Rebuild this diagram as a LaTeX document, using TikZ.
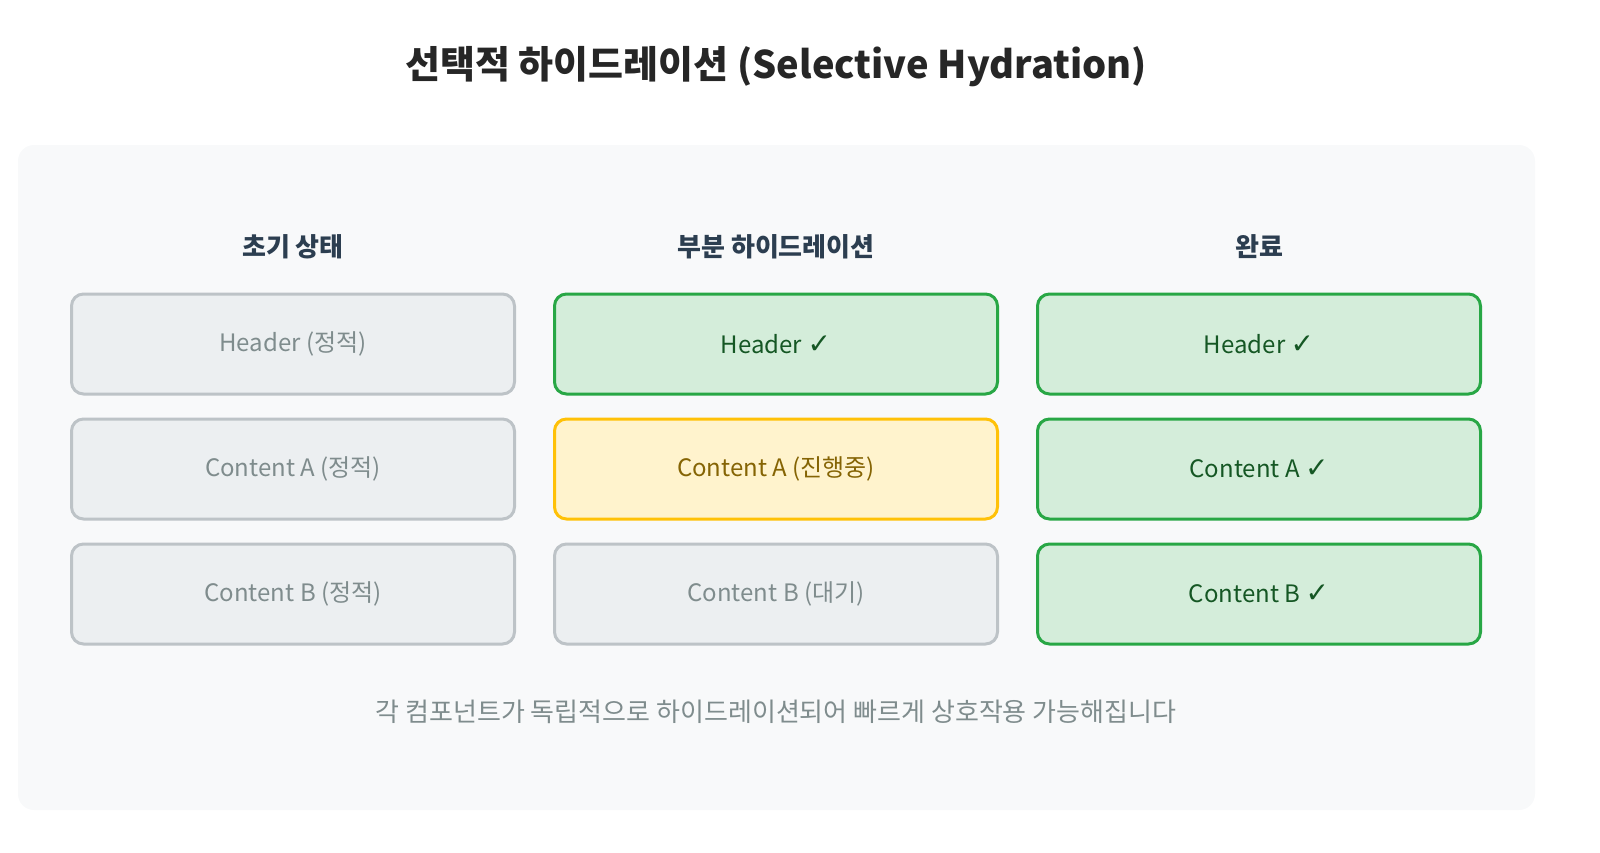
\documentclass[tikz,border=0pt]{standalone}
\usepackage{fontspec}
\setmainfont{Noto Sans CJK KR}
\newfontfamily\symfont{DejaVu Sans}
\usetikzlibrary{positioning}
\definecolor{panelbg}{HTML}{F8F9FA}
\definecolor{headtext}{HTML}{2C3E50}
\definecolor{grayfill}{HTML}{ECEFF1}
\definecolor{grayline}{HTML}{BDC3C7}
\definecolor{graytext}{HTML}{7F8C8D}
\definecolor{greenfill}{HTML}{D4EDDA}
\definecolor{greenline}{HTML}{28A745}
\definecolor{greentext}{HTML}{155724}
\definecolor{yellowfill}{HTML}{FFF3CD}
\definecolor{yellowline}{HTML}{FFC107}
\definecolor{yellowtext}{HTML}{856404}
\newcommand\chk{{\symfont\fontsize{14}{14}\selectfont ✓}}

\begin{document}
\begin{tikzpicture}[x=0.5pt,y=0.5pt,
  box/.style={draw, line width=1.5pt, rounded corners=6pt, minimum width=221.5pt,
    minimum height=50pt, font=\fontsize{12}{14}\selectfont},
  idle/.style={box, draw=grayline, fill=grayfill, text=graytext},
  ready/.style={box, draw=greenline, fill=greenfill, text=greentext},
  busy/.style={box, draw=yellowline, fill=yellowfill, text=yellowtext},
  colhead/.style={font=\fontsize{13}{15}\selectfont\bfseries, text=headtext},
  node distance=11pt]

  \useasboundingbox (0,0) rectangle (1600,-852);
  % panel
  \fill[panelbg, rounded corners=8pt] (18,-145) rectangle (1535,-810);

  \node[font=\fontsize{19}{22}\selectfont\bfseries, text=black!85] (title) at (776,-67)
    {선택적 하이드레이션 (Selective Hydration)};

  % column heads
  \node[colhead] (init) at (293,-247) {초기 상태};
  \node[colhead] (part) at (776,-247) {부분 하이드레이션};
  \node[colhead] (done) at (1259,-247) {완료};

  % initial state
  \node[idle] (h1) at (293,-344) {Header (정적)};
  \node[idle, below=of h1] (a1) {Content A (정적)};
  \node[idle, below=of a1] (b1) {Content B (정적)};

  % partial
  \node[ready] (h2) at (776,-344) {Header \chk};
  \node[busy, below=of h2] (a2) {Content A (진행중)};
  \node[idle, below=of a2] (b2) {Content B (대기)};

  % done
  \node[ready] (h3) at (1259,-344) {Header \chk};
  \node[ready, below=of h3] (a3) {Content A \chk};
  \node[ready, below=of a3] (b3) {Content B \chk};

  \node[font=\fontsize{13}{15}\selectfont, text=graytext] (note) at (776,-712)
    {각 컴포넌트가 독립적으로 하이드레이션되어 빠르게 상호작용 가능해집니다};
\end{tikzpicture}
\end{document}
